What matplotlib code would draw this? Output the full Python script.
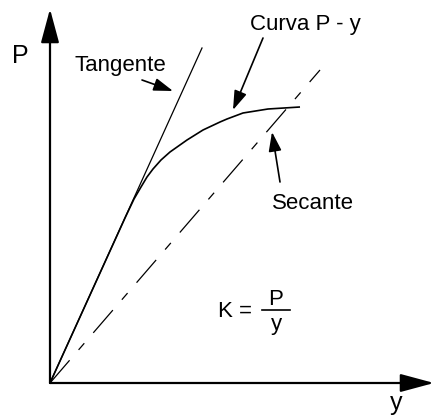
import matplotlib.pyplot as plt

plt.rcParams['font.family'] = ['Liberation Sans', 'DejaVu Sans']

# curva P - y (origin at axes corner)
curve_y = [0, 40, 60, 75, 84, 91, 97, 103, 111, 120, 137, 153, 170, 177, 193, 218, 250]
curve_P = [0, 88, 132, 165, 184, 196, 206, 214, 223, 231, 243, 253, 261, 264, 270, 274, 276]

# tangente and secante end points
tan_y = [0, 152]
tan_P = [0, 335]
sec_y = [0, 270]
sec_P = [0, 313]

fig = plt.figure(figsize=(4.35, 4.19), dpi=100)
ax = fig.add_axes([0, 0, 1, 1])
ax.set_xlim(-50, 385)
ax.set_ylim(-36, 383)
ax.axis('off')

# axes with arrows
big = dict(arrowstyle='-|>,head_length=1.3,head_width=0.35', color='black',
           lw=1.6, mutation_scale=16, shrinkA=0, shrinkB=0)
ax.annotate('', xy=(0, 374), xytext=(0, 0), arrowprops=big)
ax.annotate('', xy=(384, 0), xytext=(0, 0), arrowprops=big)

ax.plot(curve_y, curve_P, color='black', lw=1.2, solid_capstyle='butt',
        solid_joinstyle='round')
ax.plot(tan_y, tan_P, color='black', lw=0.9)
ax.plot(sec_y, sec_P, color='black', lw=0.9, linestyle=(0, (24, 11, 7, 11)))

small = dict(arrowstyle='-|>,head_length=0.9,head_width=0.3', color='black',
             lw=1.2, mutation_scale=13, shrinkA=0, shrinkB=0)
ax.annotate('', xy=(123, 292), xytext=(92, 303), arrowprops=small)
ax.annotate('', xy=(183, 273), xytext=(213, 345), arrowprops=small)
ax.annotate('', xy=(222, 251), xytext=(230, 201), arrowprops=small)

fs = 16
ax.text(-38, 320, 'P', fontsize=18, va='baseline', ha='left')
ax.text(25, 312, 'Tangente', fontsize=fs, va='baseline', ha='left')
ax.text(200, 353, 'Curva P - y', fontsize=fs, va='baseline', ha='left')
ax.text(222, 174, 'Secante', fontsize=fs, va='baseline', ha='left')
ax.text(168, 66, 'K =', fontsize=fs, va='baseline', ha='left')
ax.text(226, 78, 'P', fontsize=fs, va='baseline', ha='center')
ax.plot([212, 240], [73, 73], color='black', lw=1.2)
ax.text(226, 53, 'y', fontsize=fs, va='baseline', ha='center')
ax.text(346, -27, 'y', fontsize=18, va='baseline', ha='center')

fig.savefig('out.png', dpi=100)
